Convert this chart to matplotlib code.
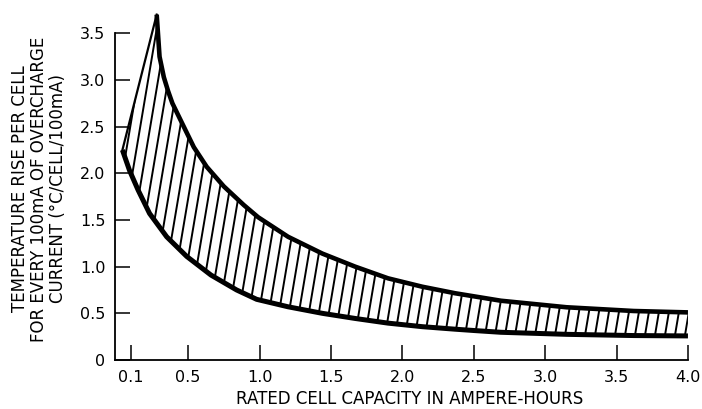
import matplotlib.pyplot as plt
import numpy as np
from matplotlib.collections import LineCollection
from matplotlib.path import Path

# upper boundary of the band
upper_x = [0.28, 0.30, 0.33, 0.36, 0.39, 0.46, 0.54, 0.63, 0.75, 0.89, 0.99, 1.20,
           1.44, 1.67, 1.90, 2.14, 2.37, 2.51, 2.69, 3.15, 3.62, 4.0]
upper_y = [3.70, 3.25, 3.03, 2.88, 2.75, 2.53, 2.28, 2.07, 1.86, 1.66, 1.53, 1.32,
           1.14, 1.00, 0.875, 0.785, 0.715, 0.68, 0.635, 0.565, 0.525, 0.51]

# lower boundary
lower_x = [0.04, 0.09, 0.15, 0.23, 0.35, 0.49, 0.66, 0.84, 0.98, 1.20, 1.44, 1.67,
           1.90, 2.14, 2.37, 2.51, 2.69, 3.15, 3.62, 4.0]
lower_y = [2.25, 2.03, 1.82, 1.57, 1.32, 1.11, 0.91, 0.75, 0.65, 0.57, 0.50, 0.445,
           0.395, 0.357, 0.33, 0.315, 0.297, 0.275, 0.262, 0.258]

xticks = [0.1, 0.5, 1.0, 1.5, 2.0, 2.5, 3.0, 3.5, 4.0]
xticklabels = ['0.1', '0.5', '1.0', '1.5', '2.0', '2.5', '3.0', '3.5', '4.0']
yticks = [0, 0.5, 1.0, 1.5, 2.0, 2.5, 3.0, 3.5]
yticklabels = ['0', '0.5', '1.0', '1.5', '2.0', '2.5', '3.0', '3.5']

plt.rcParams['font.family'] = ['DejaVu Sans']

fig = plt.figure(figsize=(7.02, 4.09), dpi=100)
ax = fig.add_axes([0.1638, 0.1198, 0.8162, 0.7988])

ax.set_xlim(-0.012, 4.0)
ax.set_ylim(0, 3.5)

# band outline used as clip for the hatching
band_x = list(lower_x) + list(upper_x[::-1]) + [lower_x[0]]
band_y = list(lower_y) + list(upper_y[::-1]) + [lower_y[0]]
band = Path(np.column_stack([band_x, band_y]), closed=True)

# slanted hatch lines
step = 0.07
lean = 0.11
starts = np.arange(-0.6, 4.2, step)
segs = [[(s, 0), (s + lean * 4, 4)] for s in starts]
hatch = LineCollection(segs, colors='black', linewidths=1.4)
hatch.set_clip_path(band, ax.transData)
ax.add_collection(hatch)

ax.plot(upper_x, upper_y, color='black', lw=3.3, solid_capstyle='butt',
        solid_joinstyle='round', clip_on=False)
ax.plot(lower_x, lower_y, color='black', lw=3.6, solid_capstyle='butt',
        solid_joinstyle='round', clip_on=False)
ax.plot([lower_x[0], upper_x[0]], [lower_y[0], upper_y[0]], color='black',
        lw=1.6, clip_on=False)

ax.spines['top'].set_visible(False)
ax.spines['right'].set_visible(False)
ax.spines['left'].set_linewidth(1.3)
ax.spines['bottom'].set_linewidth(1.3)

ax.set_xticks(xticks)
ax.set_xticklabels(xticklabels)
ax.set_yticks(yticks)
ax.set_yticklabels(yticklabels)
ax.tick_params(direction='in', length=11, width=1.1, labelsize=11.5, pad=7)

fig.text(0.056, 0.538,
         'TEMPERATURE RISE PER CELL\nFOR EVERY 100mA OF OVERCHARGE\nCURRENT (°C/CELL/100mA)',
         rotation=90, ha='center', va='center', multialignment='center',
         fontsize=12, linespacing=1.06)
fig.text(0.583, 0.024, 'RATED CELL CAPACITY IN AMPERE-HOURS',
         ha='center', va='center', fontsize=12)

fig.savefig('out.png', dpi=100)
